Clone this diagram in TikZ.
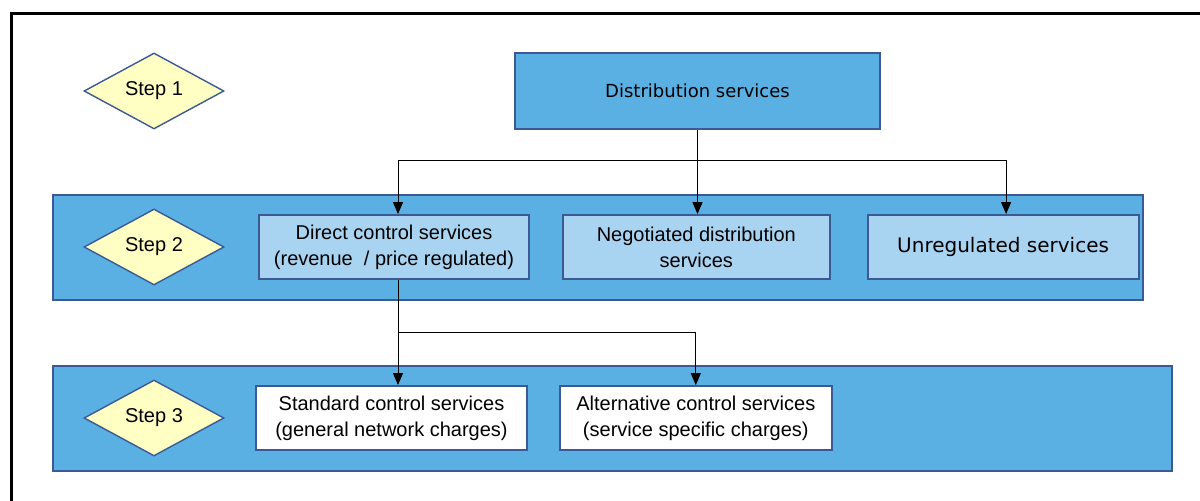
\documentclass[tikz,border=0pt]{standalone}
\usepackage{fontspec}
\setmainfont{Liberation Sans}
\newfontfamily\widefont{DejaVu Sans}
\usetikzlibrary{
  arrows.meta,
  positioning,
  shapes.geometric,
}
\definecolor{bandblue}{HTML}{5AAFE3}
\definecolor{edgeblue}{HTML}{3B5A93}
\definecolor{paleblue}{HTML}{A8D4F2}
\definecolor{stepyellow}{HTML}{FFFFC4}
\definecolor{linkgrey}{HTML}{5A6478}

\begin{document}
\begin{tikzpicture}[x=0.5pt,y=-0.5pt,font=\fontsize{10}{13}\selectfont]%
\tikzstyle{band}=[rectangle,draw=edgeblue,fill=bandblue,line width=0.7pt]
\tikzstyle{stepmark}=[diamond,draw=edgeblue,fill=stepyellow,line width=0.7pt,minimum width=70pt,minimum height=38pt,inner sep=0pt]
\tikzstyle{service}=[rectangle,draw=edgeblue,fill=paleblue,line width=0.9pt,minimum width=135pt,minimum height=32pt,align=center,inner sep=2pt]
\tikzstyle{charge}=[service,fill=white]
\tikzstyle{link}=[-{Triangle[width=5pt,length=6pt]},black,line width=0.5pt]
\useasboundingbox (0,0) rectangle (1200,501);
\draw[line width=1.5pt] (11,501) -- (11,14) -- (1200,14);
% the two step bands
\draw[band] (53,195) rectangle (1143,300);
\draw[band] (53,366) rectangle (1172,471);
\node[stepmark] (s1) at (154,91) {Step 1};
\node[stepmark] (s2) at (154,247) {Step 2};
\node[stepmark] (s3) at (154,418) {Step 3};
\node[service,fill=bandblue,minimum width=182.5pt,minimum height=38pt,font=\widefont\fontsize{9}{11}\selectfont] (dist) at (697.5,91) {Distribution services};
\node[service] (direct) at (394,247) {Direct control services\\(revenue \ / price regulated)};
\node[service,minimum width=133.5pt] (neg) [right=16pt of direct] {Negotiated distribution\\services};
\node[service,minimum width=135.5pt,font=\widefont\fontsize{10}{12}\selectfont] (unreg) [right=18pt of neg] {Unregulated services};
\node[charge,minimum width=135.5pt] (std) at (391.5,418) {Standard control services\\(general network charges)};
\node[charge,minimum width=136pt] (alt) [right=15.5pt of std] {Alternative control services\\(service specific charges)};
\draw[link] (dist.south) -- (dist.south |- neg.north);
\draw[link] (dist.south) -- ++(0,31) -| ([xshift=2pt]direct.north);
\draw[link] (dist.south) -- ++(0,31) -| ([xshift=1.5pt]unreg.north);
\draw[link] ([xshift=2pt]direct.south) -- ([xshift=2pt]direct.south |- std.north);
\draw[link] ([xshift=2pt]direct.south) ++(0,53) -| (alt.north);
\end{tikzpicture}
\end{document}
